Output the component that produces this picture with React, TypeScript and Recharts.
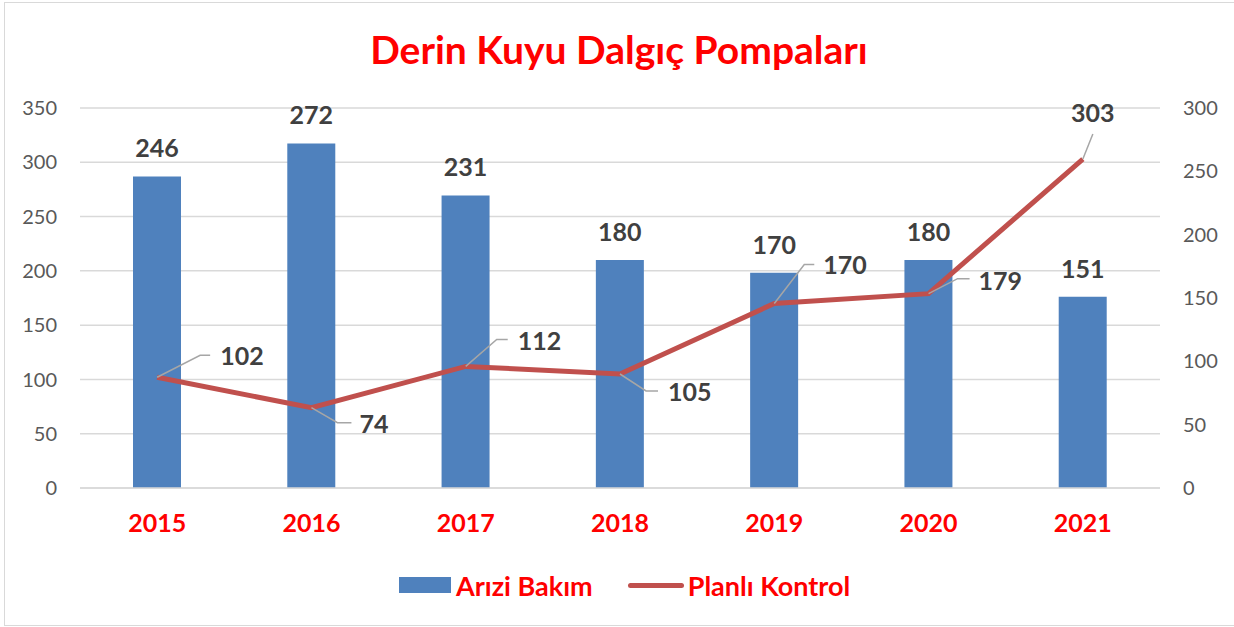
import { ComposedChart, Bar, Line, XAxis, YAxis, CartesianGrid, LabelList } from 'recharts';

const years = ['2015', '2016', '2017', '2018', '2019', '2020', '2021'];
const ariziBakim = [246, 272, 231, 180, 170, 180, 151];
const planliKontrol = [102, 74, 112, 105, 170, 179, 303];
const leftTicks = [0, 50, 100, 150, 200, 250, 300, 350];
const rightTicks = [0, 50, 100, 150, 200, 250, 300];

const data = years.map((year, i) => ({
    year,
    ariziBakim: ariziBakim[i],
    planliKontrol: planliKontrol[i]
}));

// leader line / label placement for the line labels, relative to the point
const leaderLayout = [
    { ex: 43, ey: -22, hx: 53, tx: 63, ty: -21, anchor: 'start' },
    { ex: 26, ey: 15, hx: 40, tx: 48, ty: 16, anchor: 'start' },
    { ex: 31, ey: -27, hx: 42, tx: 52, ty: -25, anchor: 'start' },
    { ex: 26, ey: 17, hx: 38, tx: 48, ty: 18, anchor: 'start' },
    { ex: 30, ey: -39, hx: 40, tx: 49, ty: -38, anchor: 'start' },
    { ex: 29, ey: -15, hx: 41, tx: 50, ty: -13, anchor: 'start' },
    { ex: 10, ey: -25, hx: 10, tx: 10, ty: -46, anchor: 'middle' }
];

const FONT = 'Lato, "Open Sans", sans-serif';
const RED = '#ff0000';

function LineValueLabel(props: any) {
    const { x, y, index, value } = props;
    const l = leaderLayout[index];
    if (!l) return null;
    return (
        <g>
            <polyline
                points={`${x},${y} ${x + l.ex},${y + l.ey} ${x + l.hx},${y + l.ey}`}
                fill="none"
                stroke="#a6a6a6"
                strokeWidth={1.5}
            />
            <text
                x={x + l.tx}
                y={y + l.ty}
                dy="0.36em"
                textAnchor={l.anchor}
                fontSize={25}
                fontWeight={700}
                fill="#404040"
                fontFamily={FONT}
            >
                {value}
            </text>
        </g>
    );
}

export default function App() {
    return (
        <div style={{ position: 'absolute', left: 0, top: 0, width: 1234, height: 627, background: '#fff', fontFamily: FONT }}>
            <div
                style={{
                    position: 'absolute',
                    left: 4,
                    top: 2,
                    width: 1240,
                    height: 622,
                    border: '1.5px solid #d9d9d9'
                }}
            />
            <div
                style={{
                    position: 'absolute',
                    left: 0,
                    width: 1238,
                    top: 24,
                    textAlign: 'center',
                    color: RED,
                    fontWeight: 700,
                    fontSize: 39,
                    lineHeight: '50px'
                }}
            >
                Derin Kuyu Dalgıç Pompaları
            </div>
            <ComposedChart
                width={1234}
                height={627}
                data={data}
                margin={{ top: 108, right: 0, bottom: 0, left: 0 }}
                style={{ position: 'absolute', left: 0, top: 0 }}
            >
                <CartesianGrid yAxisId="left" vertical={false} stroke="#d9d9d9" strokeWidth={1.5} />
                <XAxis
                    dataKey="year"
                    axisLine={{ stroke: '#d9d9d9', strokeWidth: 1.5 }}
                    tickLine={false}
                    tickSize={0}
                    tickMargin={26}
                    height={139}
                    tick={{ fill: RED, fontSize: 25, fontWeight: 700 }}
                />
                <YAxis
                    yAxisId="left"
                    orientation="left"
                    width={80}
                    domain={[0, 350]}
                    ticks={leftTicks}
                    axisLine={false}
                    tickLine={false}
                    tickSize={0}
                    tickMargin={23}
                    tick={{ fill: '#595959', fontSize: 20 }}
                />
                <YAxis
                    yAxisId="right"
                    orientation="right"
                    width={74}
                    domain={[0, 300]}
                    ticks={rightTicks}
                    axisLine={false}
                    tickLine={false}
                    tickSize={0}
                    tickMargin={23}
                    tick={{ fill: '#595959', fontSize: 20 }}
                />
                <Bar yAxisId="right" dataKey="ariziBakim" fill="#4f81bd" barSize={48} isAnimationActive={false}>
                    <LabelList
                        dataKey="ariziBakim"
                        position="top"
                        offset={19}
                        fill="#404040"
                        fontSize={25}
                        fontWeight={700}
                    />
                </Bar>
                <Line
                    yAxisId="left"
                    dataKey="planliKontrol"
                    stroke="#c0504d"
                    strokeWidth={5}
                    dot={false}
                    activeDot={false}
                    isAnimationActive={false}
                    label={LineValueLabel}
                />
            </ComposedChart>
            <div
                style={{
                    position: 'absolute',
                    top: 568,
                    left: 399,
                    height: 34,
                    display: 'flex',
                    alignItems: 'center',
                    color: RED,
                    fontWeight: 700,
                    fontSize: 27
                }}
            >
                <span style={{ width: 52, height: 16, background: '#4f81bd', marginRight: 5 }} />
                <span>Arızi Bakım</span>
                <span style={{ width: 56, height: 5, borderRadius: 3, background: '#c0504d', marginLeft: 35, marginRight: 4 }} />
                <span>Planlı Kontrol</span>
            </div>
        </div>
    );
}
